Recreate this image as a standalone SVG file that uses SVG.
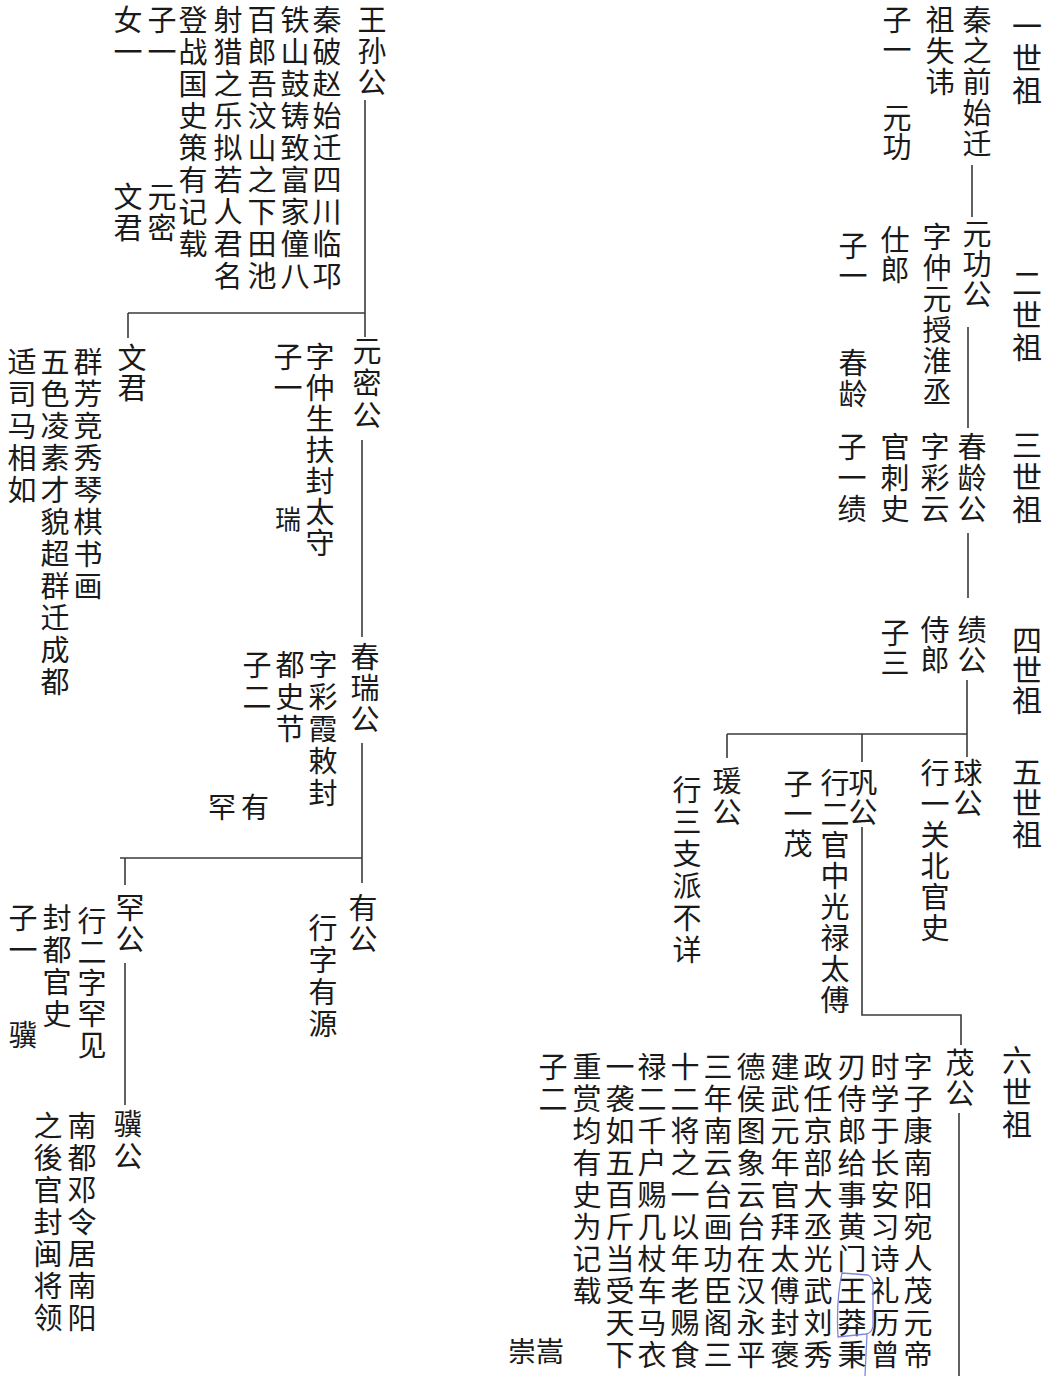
<svg xmlns="http://www.w3.org/2000/svg" width="1053" height="1376" viewBox="0 0 1053 1376">
<style>
.v{writing-mode:vertical-rl;text-orientation:upright;font-family:"Noto Sans CJK SC","Noto Sans CJK TC",sans-serif;font-size:29px;fill:#1a1a1a}
.h{font-family:"Noto Sans CJK SC","Noto Sans CJK TC",sans-serif;font-size:28px;fill:#1a1a1a}
.g{font-size:30px}
.s1{letter-spacing:1px}.s2{letter-spacing:2px}.s3{letter-spacing:3px}.s0{letter-spacing:0px}
.ln{stroke:#3a3a3a;stroke-width:1.6;fill:none}
.pen{stroke:#7d88dc;stroke-width:1.3;fill:none}
</style>
<rect width="1053" height="1376" fill="#ffffff"/>

<g id="connectors">
  <line class="ln" x1="972" y1="165" x2="972" y2="217"/>
  <line class="ln" x1="968" y1="327" x2="968" y2="428"/>
  <line class="ln" x1="968" y1="533" x2="968" y2="598"/>
  <line class="ln" x1="967" y1="680" x2="967" y2="757"/>
  <line class="ln" x1="727" y1="734" x2="967" y2="734"/>
  <line class="ln" x1="727" y1="734" x2="727" y2="758"/>
  <line class="ln" x1="862" y1="734" x2="862" y2="762"/>
  <polyline class="ln" points="862,827 862,1015 961,1015 961,1045"/>
  <line class="ln" x1="959" y1="1113" x2="959" y2="1376"/>
  <line class="ln" x1="365" y1="100" x2="365" y2="337"/>
  <line class="ln" x1="128" y1="313" x2="365" y2="313"/>
  <line class="ln" x1="128" y1="313" x2="128" y2="338"/>
  <line class="ln" x1="362" y1="440" x2="362" y2="637"/>
  <line class="ln" x1="362" y1="743" x2="362" y2="883"/>
  <line class="ln" x1="120" y1="858" x2="362" y2="858"/>
  <line class="ln" x1="125" y1="858" x2="125" y2="885"/>
  <line class="ln" x1="125" y1="963" x2="125" y2="1105"/>
</g>

<g id="generations">
  <text class="v g s2" x="1027" y="11">一世祖</text>
  <text class="v g s2" x="1027" y="268">二世祖</text>
  <text class="v g s2" x="1027" y="430">三世祖</text>
  <text class="v g s0" x="1027" y="625">四世祖</text>
  <text class="v g s1" x="1027" y="757">五世祖</text>
  <text class="v g s2" x="1017" y="1045">六世祖</text>
</g>

<g id="n-first">
  <text class="v s2" x="977" y="5">秦之前始迁</text>
  <text class="v s2" x="940" y="5">祖失讳</text>
  <text class="v s1" x="897" y="5">子一</text>
  <text class="v s0" x="897" y="103">元功</text>
</g>

<g id="n-yuangong">
  <text class="v s1" x="977" y="219">元功公</text>
  <text class="v s2" x="937" y="222">字仲元授淮丞</text>
  <text class="v s1" x="895" y="225">仕郎</text>
  <text class="v s1" x="853" y="231">子一</text>
  <text class="v s2" x="853" y="348">春龄</text>
</g>

<g id="n-chunling">
  <text class="v s2" x="972" y="432">春龄公</text>
  <text class="v s2" x="935" y="432">字彩云</text>
  <text class="v s2" x="895" y="432">官刺史</text>
  <text class="v s2" x="852" y="432">子一绩</text>
</g>

<g id="n-jigong">
  <text class="v s1" x="972" y="615">绩公</text>
  <text class="v s1" x="935" y="615">侍郎</text>
  <text class="v s1" x="895" y="618">子三</text>
</g>

<g id="n-qiugong">
  <text class="v s1" x="968" y="758">球公</text>
  <text class="v s2" x="935" y="758">行一关北官史</text>
</g>

<g id="n-gonggong">
  <text class="v s0" x="863" y="768">巩公</text>
  <text class="v s2" x="835" y="768">行二官中光禄太傅</text>
  <text class="v s1" x="798" y="769">子一茂</text>
</g>

<g id="n-aigong">
  <text class="v s2" x="727" y="766">瑗公</text>
  <text class="v s3" x="687" y="775">行三支派不详</text>
</g>

<g id="n-maogong">
  <text class="v s1" x="960" y="1048">茂公</text>
  <text class="v s3" x="918" y="1052">字子康南阳宛人茂元帝</text>
  <text class="v s3" x="885" y="1052">时学于长安习诗礼历曾</text>
  <text class="v s3" x="852" y="1052">刃侍郎给事黄门王莽秉</text>
  <text class="v s3" x="818" y="1052">政任京部大丞光武刘秀</text>
  <text class="v s3" x="785" y="1052">建武元年官拜太傅封褒</text>
  <text class="v s3" x="751" y="1052">德侯图象云台在汉永平</text>
  <text class="v s3" x="718" y="1052">三年南云台画功臣阁三</text>
  <text class="v s3" x="685" y="1052">十二将之一以年老赐食</text>
  <text class="v s3" x="652" y="1052">禄二千户赐几杖车马衣</text>
  <text class="v s3" x="620" y="1052">一袭如五百斤当受天下</text>
  <text class="v s3" x="587" y="1052">重赏均有史为记载</text>
  <text class="v s3" x="553" y="1052">子二</text>
  <text class="h" x="508" y="1362">崇嵩</text>
  <path class="pen" d="M842 1273 L868 1275 Q874 1278 873 1288 L873 1326 Q872 1333 866 1334 L838 1337 Q836 1300 842 1273 Z M867 1334 L865 1376"/>
</g>

<g id="n-wangsungong">
  <text class="v s2" x="372" y="5">王孙公</text>
  <text class="v s3" x="327" y="5">秦破赵始迁四川临邛</text>
  <text class="v s3" x="295" y="5">铁山鼓铸致富家僮八</text>
  <text class="v s3" x="262" y="5">百郎吾汶山之下田池</text>
  <text class="v s3" x="228" y="5">射猎之乐拟若人君名</text>
  <text class="v s3" x="193" y="5">登战国史策有记载</text>
  <text class="v s3" x="162" y="5">子一</text>
  <text class="v s3" x="128" y="5">女一</text>
  <text class="v s2" x="162" y="182">元密</text>
  <text class="v s2" x="128" y="182">文君</text>
</g>

<g id="n-yuanmigong">
  <text class="v s3" x="367" y="336">元密公</text>
  <text class="v s2" x="320" y="342">字仲生扶封太守</text>
  <text class="v s2" x="288" y="342">子一</text>
  <text class="v" style="font-size:26px" x="288" y="506">瑞</text>
</g>

<g id="n-wenjun">
  <text class="v s1" x="132" y="343">文君</text>
  <text class="v s3" x="88" y="347">群芳竞秀琴棋书画</text>
  <text class="v s3" x="55" y="347">五色凌素才貌超群迁成都</text>
  <text class="v s3" x="22" y="347">适司马相如</text>
</g>

<g id="n-chunruigong">
  <text class="v s2" x="365" y="642">春瑞公</text>
  <text class="v s3" x="323" y="650">字彩霞敕封</text>
  <text class="v s3" x="290" y="650">都史节</text>
  <text class="v s3" x="257" y="650">子二</text>
  <text class="h" x="208" y="818" style="letter-spacing:5px">罕有</text>
</g>

<g id="n-yougong">
  <text class="v s2" x="363" y="893">有公</text>
  <text class="v s3" x="323" y="913">行字有源</text>
</g>

<g id="n-hangong">
  <text class="v s2" x="130" y="893">罕公</text>
  <text class="v s2" x="92" y="906">行二字罕见</text>
  <text class="v s3" x="57" y="903">封都官史</text>
  <text class="v s3" x="23" y="903">子一</text>
  <text class="v" x="23" y="1020">骥</text>
</g>

<g id="n-jigong2">
  <text class="v s3" x="128" y="1109">骥公</text>
  <text class="v s3" x="82" y="1111">南都邓令居南阳</text>
  <text class="v s3" x="48" y="1111">之後官封闽将领</text>
</g>
</svg>
